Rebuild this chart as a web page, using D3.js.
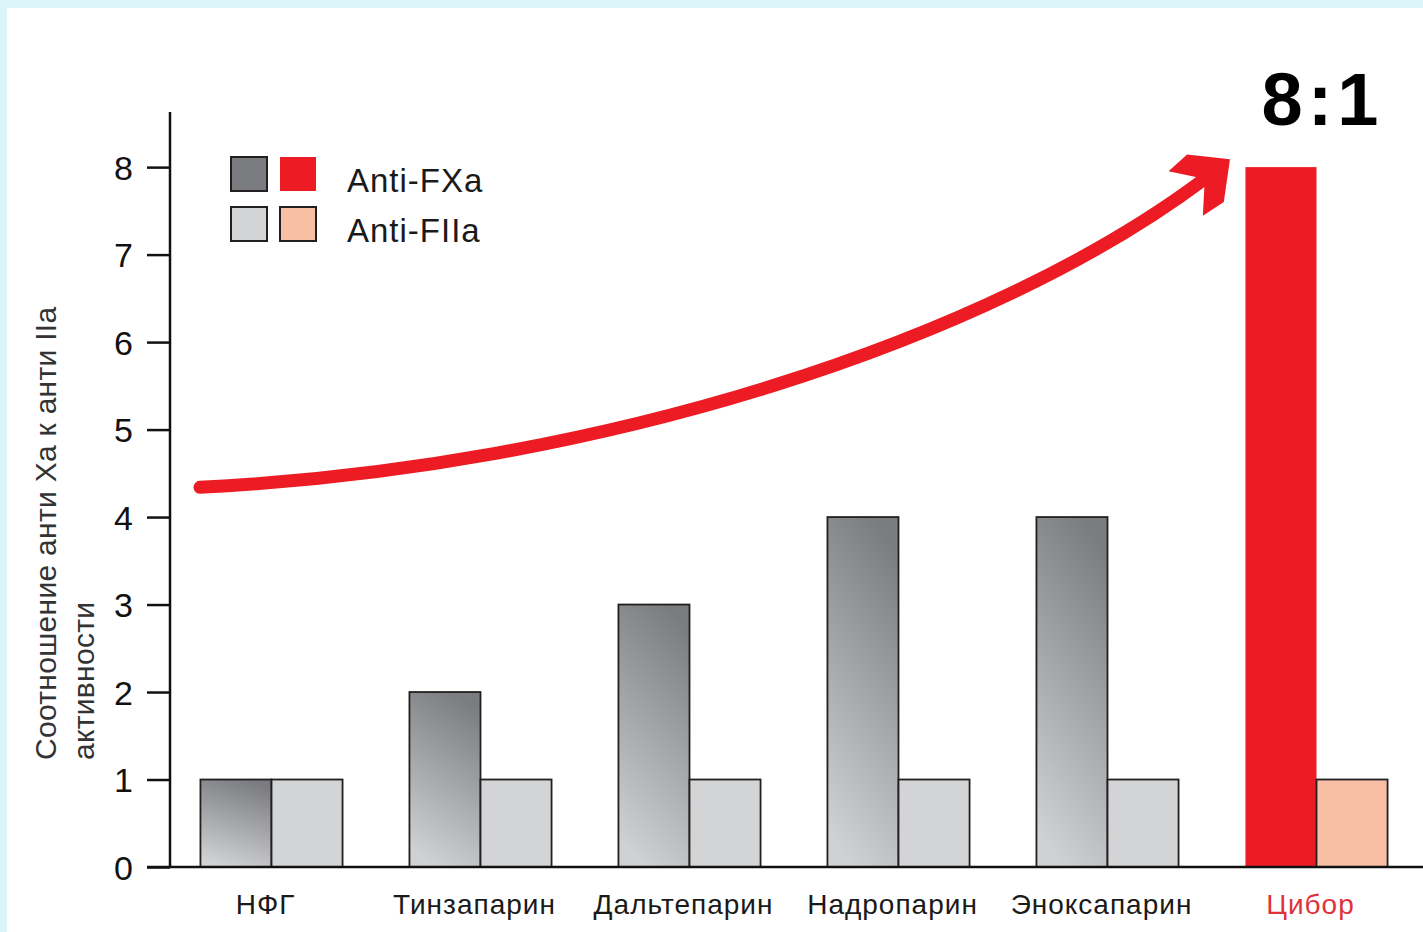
<!DOCTYPE html>
<html>
<head>
<meta charset="utf-8">
<script src="https://cdn.jsdelivr.net/npm/d3@7"></script>
<style>
  html, body { margin: 0; padding: 0; background: #dbf4f9; }
  svg { display: block; }
  text { font-family: "Liberation Sans", Arial, sans-serif; }
</style>
</head>
<body>
<svg id="chart" width="1423" height="932"></svg>
<script>
// data
const categories = ["НФГ", "Тинзапарин", "Дальтепарин", "Надропарин", "Эноксапарин", "Цибор"];
const antiXa = [1, 2, 3, 4, 4, 8];
const antiIIa = [1, 1, 1, 1, 1, 1];
const yTicks = [0, 1, 2, 3, 4, 5, 6, 7, 8];
const highlight = "Цибор";
const ratioLabel = "8:1";
const legendLabels = ["Anti-FXa", "Anti-FIIa"];
const yTitle = ["Соотношение анти Ха к анти IIa", "активности"];
// trend arrow as a cubic curve: start, two control points, end of shaft
// [position along the category axis (in steps), value]
const arrowPos = [0.158, 2.072, 3.938, 4.967];
const arrowVal = [4.34, 4.57, 6.02, 7.87];
const arrowTip = [5.086, 8.09];

const colors = {
  xa: "#7b7c80", xaLight: "#d0d1d3", iia: "#d3d4d6",
  red: "#ed1c24", peach: "#f9bfa5", stroke: "#231f20", redText: "#df333b"
};

const svg = d3.select("#chart");
svg.append("rect").attr("x", 7).attr("y", 8).attr("width", 1423).attr("height", 932).attr("fill", "#fff");

const defs = svg.append("defs");
const grad = defs.append("linearGradient").attr("id", "xaGrad")
  .attr("x1", 0.64).attr("y1", 0).attr("x2", 0.36).attr("y2", 1);
grad.append("stop").attr("offset", 0).attr("stop-color", colors.xa);
grad.append("stop").attr("offset", 1).attr("stop-color", colors.xaLight);

const x0 = d3.scaleBand().domain(categories).range([167, 1421]).paddingInner(0.32).paddingOuter(0.16);
const x1 = d3.scaleBand().domain(["xa", "iia"]).range([0, x0.bandwidth()]);
const y = d3.scaleLinear().domain([0, 8.63]).range([867, 112]);
const posX = p => x0.range()[0] + x0.step() * p;

const rows = categories.map((c, i) => ({cat: c, xa: antiXa[i], iia: antiIIa[i]}));

// y axis
const yAxis = svg.append("g").attr("transform", "translate(170,0)")
  .call(d3.axisLeft(y).tickValues(yTicks).tickSize(23).tickPadding(14).tickFormat(d3.format("d")));
yAxis.select(".domain").remove();
yAxis.selectAll(".tick line").attr("stroke", "#111").attr("stroke-width", 2.5);
yAxis.selectAll(".tick text").attr("font-size", 34).attr("fill", "#111")
  .attr("font-family", "'Liberation Sans', Arial, sans-serif").attr("dy", "0.36em");
svg.append("line").attr("x1", 170).attr("x2", 170).attr("y1", y(8.63)).attr("y2", y(0) + 1)
  .attr("stroke", "#111").attr("stroke-width", 2.5);

// bars
const groups = svg.append("g").selectAll("g").data(rows).enter().append("g")
  .attr("transform", d => "translate(" + x0(d.cat) + ",0)");

groups.append("rect")
  .attr("x", x1("xa")).attr("width", x1.bandwidth())
  .attr("y", d => y(d.xa)).attr("height", d => y(0) - y(d.xa))
  .attr("fill", d => d.cat === highlight ? colors.red : "url(#xaGrad)")
  .attr("stroke", d => d.cat === highlight ? "none" : colors.stroke)
  .attr("stroke-width", 1.8);

groups.append("rect")
  .attr("x", x1("iia")).attr("width", x1.bandwidth())
  .attr("y", d => y(d.iia)).attr("height", d => y(0) - y(d.iia))
  .attr("fill", d => d.cat === highlight ? colors.peach : colors.iia)
  .attr("stroke", colors.stroke).attr("stroke-width", 1.8);

// x axis line
svg.append("line").attr("x1", 147).attr("x2", 1423).attr("y1", y(0)).attr("y2", y(0))
  .attr("stroke", "#111").attr("stroke-width", 2.5);

svg.append("g").selectAll("text").data(categories).enter().append("text")
  .attr("x", d => x0(d) + x0.bandwidth() / 2 - 6).attr("y", 914)
  .attr("text-anchor", "middle").attr("font-size", 28).attr("letter-spacing", 1)
  .attr("fill", d => d === highlight ? colors.redText : "#1a1a1a")
  .text(d => d);

// y title
const yt = svg.append("text").attr("transform", "translate(0,760) rotate(-90)")
  .attr("font-size", 30).attr("letter-spacing", 0.3).attr("fill", "#333");
yTitle.forEach((t, i) => yt.append("tspan").attr("x", 0).attr("y", 56 + i * 38).text(t));

// legend
const legend = svg.append("g").attr("transform", "translate(231,157)");
const swatches = [[colors.xa, colors.red], [colors.iia, colors.peach]];
legendLabels.forEach((lab, i) => {
  const row = legend.append("g").attr("transform", "translate(0," + i * 50 + ")");
  swatches[i].forEach((c, j) => {
    row.append("rect").attr("x", j * 49).attr("width", 36).attr("height", 34)
      .attr("fill", c).attr("stroke", c === colors.red ? "none" : colors.stroke).attr("stroke-width", 2);
  });
  row.append("text").attr("x", 116).attr("y", 35).attr("font-size", 33).attr("letter-spacing", 1)
    .attr("fill", "#1a1a1a").text(lab);
});

// trend arrow
const ap = arrowPos.map((p, i) => [posX(p), y(arrowVal[i])]);
const shaft = d3.path();
shaft.moveTo(ap[0][0], ap[0][1]);
shaft.bezierCurveTo(ap[1][0], ap[1][1], ap[2][0], ap[2][1], ap[3][0], ap[3][1]);
svg.append("path").attr("d", shaft.toString())
  .attr("fill", "none").attr("stroke", colors.red).attr("stroke-width", 13).attr("stroke-linecap", "round");

const tip = [posX(arrowTip[0]), y(arrowTip[1])];
const ang = Math.atan2(tip[1] - ap[3][1], tip[0] - ap[3][0]);
// chevron head: tip, cut upper barb, notch, cut lower barb
const headPoly = [[0, 0], [-31, -30], [-56, -28], [-37, -6], [-37, 6], [-56, 28], [-31, 30]];
svg.append("path")
  .attr("d", "M" + headPoly.map(p => p.join(",")).join("L") + "Z")
  .attr("transform", "translate(" + tip[0] + "," + tip[1] + ") rotate(" + ang * 180 / Math.PI + ")")
  .attr("fill", colors.red);

// ratio label
svg.append("text").attr("x", x0(highlight) + x0.bandwidth() / 2 + 6).attr("y", 125)
  .attr("text-anchor", "middle").attr("font-size", 74).attr("font-weight", "bold")
  .attr("letter-spacing", 5).attr("fill", "#000").text(ratioLabel);
</script>
</body>
</html>
